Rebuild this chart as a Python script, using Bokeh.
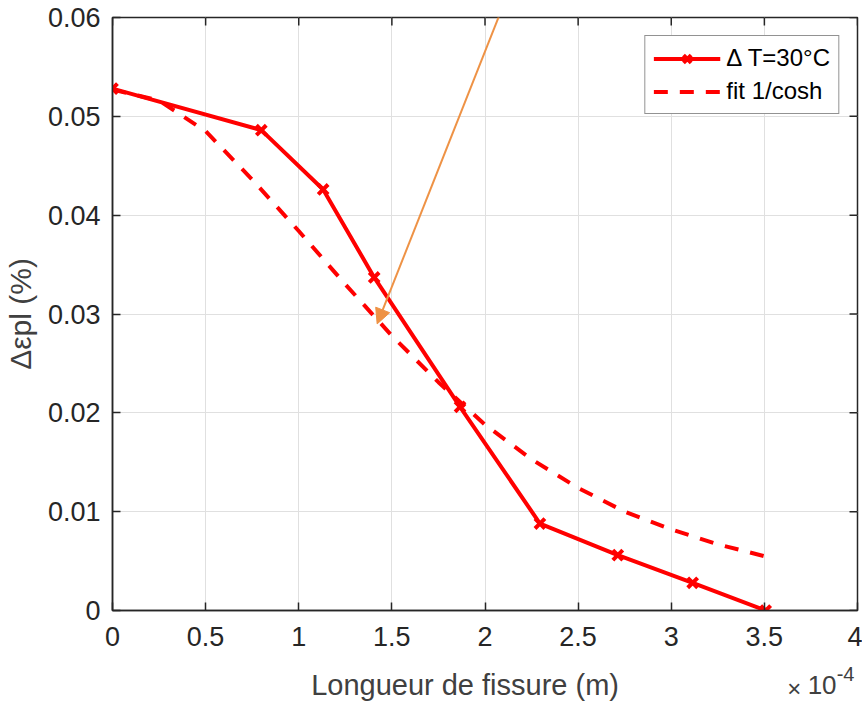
from bokeh.plotting import figure
from bokeh.models import (LinearAxis, Range1d, Arrow, NormalHead, FixedTicker)
from bokeh.embed import file_html
from bokeh.resources import INLINE

# ---- data (crack length in units of 1e-4 m) ----
crack_length = [0.0, 0.799, 1.131, 1.405, 1.866, 2.295, 2.713, 3.115, 3.507]
delta_eps_pl = [0.0528, 0.0486, 0.0426, 0.0337, 0.0206, 0.0088, 0.0056, 0.0028, 0.0]

fit_length = [0.0, 0.25, 0.5, 0.75, 1.0, 1.25, 1.5, 1.75, 2.0, 2.25, 2.5, 2.75, 3.0, 3.25, 3.5]
fit_values = [0.0527, 0.0516, 0.0485, 0.0436, 0.0384, 0.0330, 0.0278, 0.0231,
              0.0188, 0.0153, 0.0124, 0.0100, 0.0082, 0.0067, 0.0055]

x_ticks = [0, 0.5, 1, 1.5, 2, 2.5, 3, 3.5, 4]
x_tick_labels = ["0", "0.5", "1", "1.5", "2", "2.5", "3", "3.5", "4"]
y_ticks = [0, 0.01, 0.02, 0.03, 0.04, 0.05, 0.06]
y_tick_labels = ["0", "0.01", "0.02", "0.03", "0.04", "0.05", "0.06"]

series_label = "\u0394 T=30\u00b0C"
fit_label = "fit 1/cosh"
x_title = "Longueur de fissure (m)"
y_title = "\u0394\u03b5pl (%)"
# texts under the x axis: (text, centre on the x axis, font size, label standoff)
below_texts = [(x_title, 1.893, "29px", 20),
               ("\u00d7", 3.660, "24px", -29), ("10", 3.810, "26px", -29), ("-4", 3.936, "20px", -38)]

FONT = "Liberation Sans"
AX = "#262626"
LAB = "#404040"
ORANGE = "#EE9245"
RED = "#FF0000"

X0, X1, Y0, Y1 = 0, 4, 0, 0.06
p = figure(width=862, height=705, x_range=Range1d(X0, X1), y_range=Range1d(Y0, Y1),
           output_backend="svg", toolbar_location=None,
           min_border_left=111, min_border_right=5, min_border_top=17, min_border_bottom=95)
p.outline_line_color = AX
p.outline_line_width = 1.5
p.background_fill_color = "white"

p.xaxis.ticker = FixedTicker(ticks=x_ticks)
p.yaxis.ticker = FixedTicker(ticks=y_ticks)
p.xaxis.major_label_overrides = {t: s for t, s in zip(x_ticks, x_tick_labels)}
p.yaxis.major_label_overrides = {t: s for t, s in zip(y_ticks, y_tick_labels)}

for ax in (p.xaxis[0], p.yaxis[0]):
    ax.axis_line_color = AX
    ax.axis_line_width = 1.5
    ax.major_tick_line_color = AX
    ax.major_tick_line_width = 1.5
    ax.major_tick_in = 8
    ax.major_tick_out = 0
    ax.minor_tick_in = 0
    ax.minor_tick_out = 0
    ax.major_label_text_font = FONT
    ax.major_label_text_font_size = "27px"
    ax.major_label_text_color = AX
    ax.axis_label_text_font = FONT
    ax.axis_label_text_font_style = "normal"
    ax.axis_label_text_color = LAB

p.xaxis.major_label_standoff = 16
p.yaxis.major_label_standoff = 12
p.yaxis.axis_label = y_title
p.yaxis.axis_label_text_font_size = "30px"
p.yaxis.axis_label_standoff = 8

p.grid.grid_line_color = "#e0e0e0"
p.grid.grid_line_width = 1

# inward ticks on the top and right sides of the box
tick_len_y = (Y1 - Y0) * 8 / 593
tick_len_x = (X1 - X0) * 8 / 746
p.segment(x0=x_ticks, y0=[Y1] * len(x_ticks), x1=x_ticks, y1=[Y1 - tick_len_y] * len(x_ticks),
          line_color=AX, line_width=1.5)
p.segment(x0=[X1] * len(y_ticks), y0=y_ticks, x1=[X1 - tick_len_x] * len(y_ticks), y1=y_ticks,
          line_color=AX, line_width=1.5)

# fit curve
p.line(fit_length, fit_values, line_color=RED, line_width=4,
       line_dash="14 12", legend_label=fit_label)
# measured
p.line(crack_length, delta_eps_pl, line_color=RED, line_width=4,
       legend_label=series_label)
p.scatter(crack_length, delta_eps_pl, marker="x", size=14, line_color=RED,
          line_width=4, legend_label=series_label)

leg = p.legend[0]
items = list(leg.items)
items.sort(key=lambda it: 0 if it.label.value == series_label else 1)
leg.items = items
leg.location = "top_right"
leg.margin = 18
leg.padding = 8
leg.spacing = 5
leg.label_height = 27
leg.glyph_height = 27
leg.glyph_width = 67
leg.label_standoff = 6
leg.label_text_font = FONT
leg.label_text_font_size = "24px"
leg.label_text_color = "#000000"
leg.border_line_color = AX
leg.border_line_width = 1
leg.background_fill_color = "white"
leg.background_fill_alpha = 1

# arrow annotation
p.add_layout(Arrow(end=NormalHead(size=15, fill_color=ORANGE, line_color=ORANGE),
                   x_start=2.108, y_start=0.0617, x_end=1.421, y_end=0.0290,
                   line_color=ORANGE, line_width=2))

# x-axis title and exponent note x10^-4, as label-only axes stacked under the x axis
for txt, xpos, fs, so in below_texts:
    a = LinearAxis(ticker=FixedTicker(ticks=[xpos]))
    a.major_label_overrides = {xpos: txt}
    a.axis_line_color = None
    a.major_tick_line_color = None
    a.minor_tick_line_color = None
    a.major_tick_in = 0
    a.major_tick_out = 0
    a.minor_tick_in = 0
    a.minor_tick_out = 0
    a.major_label_text_font = FONT
    a.major_label_text_font_size = fs
    a.major_label_text_color = LAB
    a.major_label_standoff = so
    p.add_layout(a, "below")

open("out.html", "w").write(file_html(p, INLINE))
